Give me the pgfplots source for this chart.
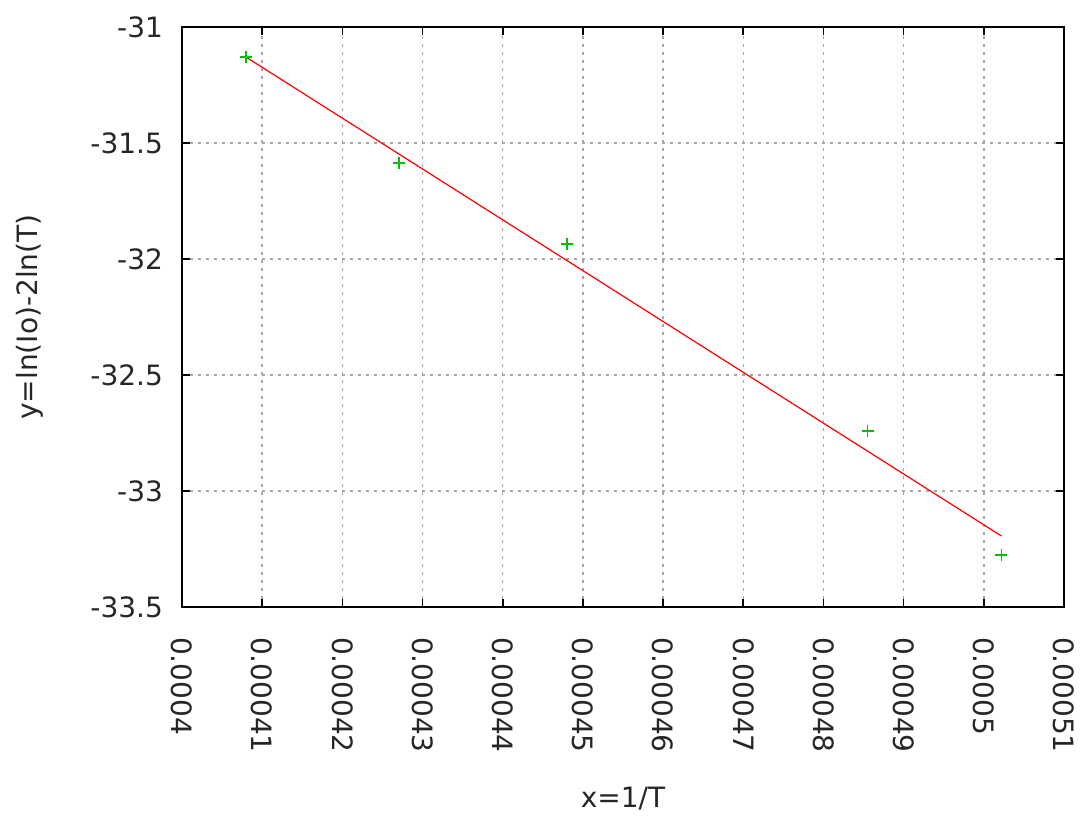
\documentclass[border=0pt]{standalone}
\usepackage{fontspec}
\setmainfont{DejaVu Sans}
\usepackage{pgfplots}
\pgfplotsset{compat=1.18}

\definecolor{fitred}{RGB}{255,0,0}
\definecolor{ptgreen}{RGB}{0,192,0}

\begin{document}
\begin{tikzpicture}
\begin{axis}[
    scale only axis,
    width=441pt, height=290pt,
    xmin=0.0004, xmax=0.00051,
    ymin=-33.5, ymax=-31,
    scaled x ticks=false,
    scaled y ticks=false,
    font=\fontsize{14}{17}\selectfont,
    axis line style={black, line width=0.8pt},
    tick align=inside,
    major tick length=4pt,
    tick style={black, line width=0.8pt},
    xtick={0.0004,0.00041,0.00042,0.00043,0.00044,0.00045,0.00046,0.00047,0.00048,0.00049,0.0005,0.00051},
    xticklabels={0.0004,0.00041,0.00042,0.00043,0.00044,0.00045,0.00046,0.00047,0.00048,0.00049,0.0005,0.00051},
    ytick={-33.5,-33,-32.5,-32,-31.5,-31},
    yticklabels={-33.5,-33,-32.5,-32,-31.5,-31},
    xticklabel style={rotate=-90, anchor=west, inner sep=0pt, outer sep=0pt, xshift=15pt, text=black!85},
    yticklabel style={xshift=-6pt, text=black!85},
    grid=major,
    grid style={gray!70, line width=0.7pt, dash pattern=on 1.5pt off 2.5pt},
    xlabel={x=1/T},
    ylabel={y=ln(Io)-2ln(T)},
    xlabel style={at={(0.5,0)}, anchor=center, yshift=-96pt, text=black!85},
    ylabel style={at={(0,0.5)}, anchor=center, yshift=76pt, text=black!85},
]
\addplot[fitred, line width=0.6pt] coordinates {
    (0.000408, -31.130)
    (0.0005022, -33.194)
};
\addplot[only marks, mark=+, mark size=3pt, ptgreen, line width=0.9pt] coordinates {
    (0.000408, -31.131)
    (0.0004271, -31.586)
    (0.0004480, -31.935)
    (0.0004855, -32.741)
    (0.0005022, -33.276)
};
\end{axis}
\pgfresetboundingbox
\path ([shift={(-91pt,-109pt)}]current axis.south west) rectangle ([shift={(10.5pt,13.5pt)}]current axis.north east);
\end{tikzpicture}
\end{document}
